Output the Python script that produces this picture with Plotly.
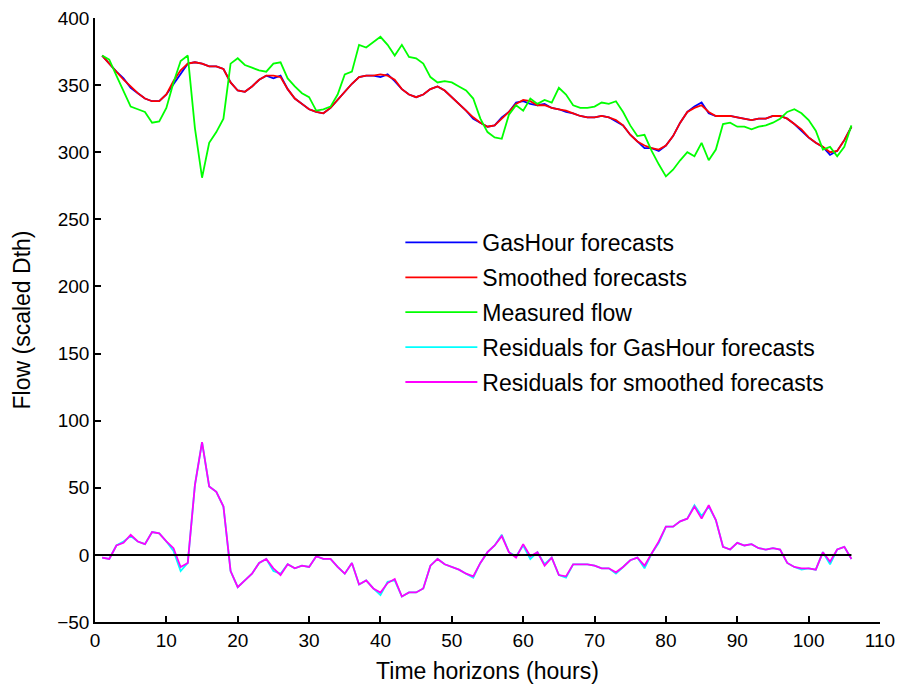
import plotly.graph_objects as go

hours = list(range(1, 107))

gashour = [372, 366, 360, 355, 348, 344, 340, 338, 338, 343,
           351, 358, 366, 367, 366, 364, 364, 362, 352, 346,
           345, 349, 354, 357, 355, 357, 347, 340, 336, 332,
           330, 329, 333, 339, 345, 351, 356, 357, 357, 356,
           358, 353, 347, 343, 341, 343, 347, 349, 346, 341,
           336, 331, 325, 322, 319, 320, 326, 330, 337, 338,
           336, 335, 336, 333, 332, 330, 329, 327, 326, 326,
           327, 326, 323, 320, 313, 308, 303, 303, 301, 305,
           312, 322, 330, 334, 337, 329, 327, 327, 327, 326,
           325, 324, 325, 325, 327, 327, 325, 321, 316, 311,
           307, 304, 298, 301, 309, 319]

smoothed = [372, 366, 360, 354, 349, 344, 340, 338, 338, 343,
            353, 361, 366, 367, 366, 364, 364, 362, 352, 346,
            345, 349, 354, 357, 357, 356, 347, 340, 336, 332,
            330, 329, 333, 339, 345, 351, 356, 357, 357, 358,
            357, 354, 347, 343, 341, 343, 347, 349, 346, 341,
            336, 331, 326, 322, 319, 320, 325, 330, 336, 339,
            338, 335, 335, 333, 332, 331, 329, 327, 326, 326,
            327, 326, 324, 320, 313, 308, 305, 303, 302, 305,
            312, 322, 330, 333, 335, 330, 327, 327, 327, 326,
            325, 324, 325, 325, 327, 327, 325, 321, 317, 311,
            307, 304, 300, 301, 309, 319]

measured = [372, 369, 357, 345, 334, 332, 330, 322, 323, 333,
            352, 368, 372, 318, 281, 307, 315, 325, 366, 370,
            365, 363, 361, 360, 366, 367, 355, 349, 344, 341,
            331, 332, 334, 343, 358, 360, 380, 378, 382, 386,
            380, 372, 380, 371, 370, 366, 356, 352, 353, 352,
            349, 346, 340, 325, 315, 311, 310, 328, 335, 331,
            340, 336, 339, 337, 348, 343, 335, 333, 333, 334,
            337, 336, 338, 330, 320, 312, 313, 301, 291, 282,
            287, 294, 300, 297, 307, 294, 302, 321, 322, 319,
            319, 317, 319, 320, 322, 325, 330, 332, 329, 324,
            316, 302, 304, 297, 304, 320]

resid_gashour = [-2, -3, 7, 10, 14, 10, 8, 17, 16, 10,
                 3, -12, -6, 52, 84, 51, 47, 36, -12, -24,
                 -19, -14, -6, -3, -12, -14, -7, -10, -8, -9,
                 -1, -3, -3, -9, -14, -6, -22, -19, -25, -30,
                 -20, -19, -31, -28, -28, -25, -8, -3, -7, -9,
                 -11, -14, -17, -6, 2, 7, 15, 2, -1, 7,
                 -3, 2, -7, -2, -15, -17, -7, -7, -7, -8,
                 -10, -10, -14, -9, -4, -2, -10, 1, 9, 21,
                 21, 25, 27, 37, 29, 36, 26, 6, 4, 9,
                 7, 8, 5, 4, 5, 4, -6, -9, -11, -10,
                 -11, 2, -7, 4, 6, -3]

resid_smoothed = [-2, -3, 7, 9, 15, 10, 8, 17, 16, 10,
                  5, -9, -6, 52, 84, 51, 47, 36, -12, -24,
                  -19, -14, -6, -3, -10, -15, -7, -10, -8, -9,
                  -1, -3, -3, -9, -14, -6, -22, -19, -25, -28,
                  -21, -18, -31, -28, -28, -25, -8, -3, -7, -9,
                  -11, -14, -16, -6, 2, 7, 14, 2, -2, 8,
                  -1, 2, -8, -2, -15, -16, -7, -7, -7, -8,
                  -10, -10, -13, -9, -4, -2, -8, 1, 10, 21,
                  21, 25, 27, 36, 27, 37, 26, 6, 4, 9,
                  7, 8, 5, 4, 5, 4, -6, -9, -10, -10,
                  -11, 2, -5, 4, 6, -3]

zero_x = [0, 106]
zero_y = [0, 0]

x_ticks = list(range(0, 111, 10))
y_ticks = list(range(-50, 401, 50))

FONT = "Liberation Sans, Arial, sans-serif"

fig = go.Figure()
series = [
    ("GasHour forecasts", gashour, "rgb(0,0,255)"),
    ("Smoothed forecasts", smoothed, "rgb(255,0,0)"),
    ("Measured flow", measured, "rgb(0,255,0)"),
    ("Residuals for GasHour forecasts", resid_gashour, "rgb(0,255,255)"),
    ("Residuals for smoothed forecasts", resid_smoothed, "rgb(255,0,255)"),
]
for i, (name, ys, col) in enumerate(series):
    fig.add_trace(go.Scatter(x=hours, y=ys, mode="lines", name=name,
                             legendgroup=f"g{i}",
                             line=dict(color=col, width=1.8)))

fig.add_trace(go.Scatter(x=zero_x, y=zero_y, mode="lines", showlegend=False,
                         line=dict(color="black", width=2), hoverinfo="skip"))

fig.update_layout(
    width=899, height=689,
    paper_bgcolor="white", plot_bgcolor="white",
    margin=dict(l=95, r=19, t=18, b=67),
    font=dict(family=FONT, size=19, color="black"),
    showlegend=True,
    legend=dict(x=0.389, y=0.664, xanchor="left", yanchor="top",
                bgcolor="rgba(0,0,0,0)", borderwidth=0,
                font=dict(family=FONT, size=23),
                tracegroupgap=2, itemwidth=72),
    xaxis=dict(range=[0, 110], tickmode="array", tickvals=x_ticks,
               ticks="inside", ticklen=6, tickwidth=1.5, tickcolor="black",
               showline=True, linecolor="black", linewidth=1.5,
               showgrid=False, zeroline=False, automargin=False,
               title=dict(text="Time horizons (hours)", font=dict(size=23), standoff=13)),
    yaxis=dict(range=[-50, 400], tickmode="array", tickvals=y_ticks,
               ticks="inside", ticklen=6, tickwidth=1.5, tickcolor="black",
               showline=True, linecolor="black", linewidth=1.5,
               showgrid=False, zeroline=False, automargin=False,
               title=dict(text="Flow (scaled Dth)", font=dict(size=23), standoff=20)),
)

fig.write_html("out.html")
